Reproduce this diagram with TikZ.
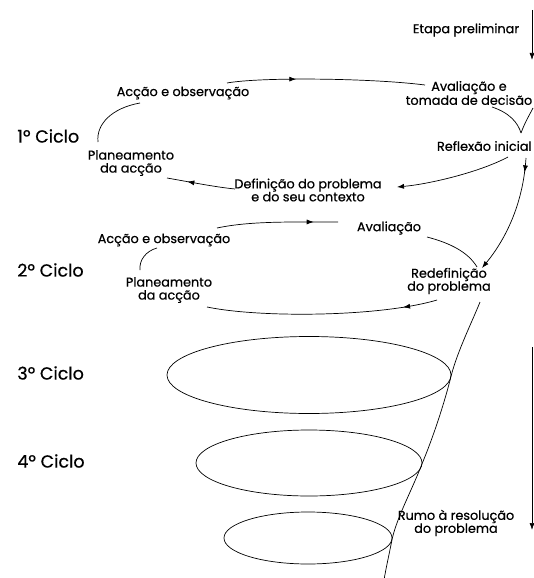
\documentclass[tikz,border=0pt]{standalone}
\usepackage{fontspec}
\setmainfont{Poppins}
\newfontfamily\diagfont{Poppins}[FakeBold=0.6]
\usetikzlibrary{arrows.meta}
\usetikzlibrary{shapes.geometric}
\usetikzlibrary{decorations.markings}

\tikzset{
  lbl/.style={font=\diagfont\fontsize{12.8}{13}\selectfont, align=center, inner sep=1pt},
  cyc/.style={font=\diagfont\fontsize{17.5}{19}\selectfont, anchor=west, inner sep=0pt},
  ring/.style={draw, ellipse, inner sep=0pt},
  midarrow/.style={postaction={decorate}, decoration={markings,
      mark=at position #1 with {\arrow{Latex[length=7pt,width=5pt]}}}},
}

\begin{document}
\begin{tikzpicture}[x=1pt, y=-1pt, line width=0.7pt, >={Latex[length=7pt,width=5pt]}]
        \useasboundingbox (0,0) rectangle (534,578);

        % Cycle labels
        \node[cyc] (cic1) at (17,136) {1º Ciclo};
        \node[cyc] (cic2) at (17,270) {2º Ciclo};
        \node[cyc] (cic3) at (17,373) {3º Ciclo};
        \node[cyc] (cic4) at (17,461) {4º Ciclo};

        % Side arrows
        \node[lbl] (pre) at (466,30) {Etapa preliminar};
        \coordinate (p0) at (532,10);
        \coordinate (p1) at (532,60);
        \draw[->] (p0) -- (p1);
        \coordinate (q0) at (532,347);
        \coordinate (q1) at (532,530);
        \draw[->] (q0) -- (q1);

        % 1st cycle
        \node[lbl] (acc1) at (183,93) {Acção e observação};
        \node[lbl] (ava1) at (469,93) {Avaliação e\\tomada de decisão};
        \node[lbl, anchor=east] (ref1) at (533,146) {Reflexão inicial};
        \node[lbl] (pla1) at (131,163) {Planeamento\\da acção};
        \node[lbl] (def1) at (308,190) {Definição do problema\\e do seu contexto};
        \coordinate (v1) at ([shift={(-12,-13)}]ref1.east);
        \coordinate (c1) at (533,108);

        \draw[midarrow=0.35] ([shift={(44,-10)}]acc1.center) .. controls (260,77) and (370,78) .. ([shift={(-44,-8)}]ava1.center);
        \draw ([shift={(23,14)}]ava1.center) .. controls (510,113) and (518,123) .. (v1);
        \draw (v1) .. controls (525,122) and (530,114) .. (c1);
        \draw[->] ([shift={(-25,11)}]ref1.east) .. controls (480,172) and (430,184) .. ([shift={(89,-3)}]def1.center);
        \draw[midarrow=0.7] ([shift={(-73,-1)}]def1.center) .. controls (215,187) and (190,182) .. ([shift={(36,15)}]pla1.center);
        \draw ([shift={(-33,-21)}]pla1.center) .. controls (96,124) and (112,108) .. ([shift={(-43,10)}]acc1.center);

        % 2nd cycle
        \node[lbl] (acc2) at (164,240) {Acção e observação};
        \node[lbl] (ava2) at (389,228) {Avaliação};
        \node[lbl] (pla2) at (169,290) {Planeamento\\da acção};
        \node[lbl] (red2) at (449,281) {Redefinição\\do problema};

        \draw[->, midarrow=0.12] ([shift={(-7,12)}]ref1.east) .. controls (523,205) and (505,240) .. ([shift={(33,-13)}]red2.center);
        \draw[midarrow=0.8] ([shift={(53,-12)}]acc2.center) .. controls (250,221) and (290,222) .. ([shift={(-51,-6)}]ava2.center);
        \draw ([shift={(38,9)}]ava2.center) .. controls (450,243) and (468,252) .. ([shift={(28,-14)}]red2.center);
        \draw[midarrow=0.15] ([shift={(-12,19)}]red2.center) .. controls (380,317) and (260,318) .. ([shift={(38,17)}]pla2.center);
        \draw ([shift={(-29,-20)}]pla2.center) .. controls (139,260) and (146,251) .. ([shift={(-7,8)}]acc2.center);

        % Later cycles
        \node[ring, minimum width=284pt, minimum height=77pt] (e3) at (309,375) {};
        \node[ring, minimum width=226pt, minimum height=66pt] (e4) at (309,463) {};
        \node[ring, minimum width=168pt, minimum height=52pt] (e5) at (308,538) {};
        \node[lbl] (rumo) at (456,523) {Rumo à resolução\\do problema};
        \coordinate (tail) at (384,580);

        \draw ([shift={(31,21)}]red2.center) .. controls (472,322) and (458,350) .. (e3.east)
            .. controls (444,405) and (432,440) .. (e4.east)
            .. controls (412,490) and (398,515) .. (e5.east)
            .. controls (389,555) and (386,568) .. (tail);
    \end{tikzpicture}
\end{document}
